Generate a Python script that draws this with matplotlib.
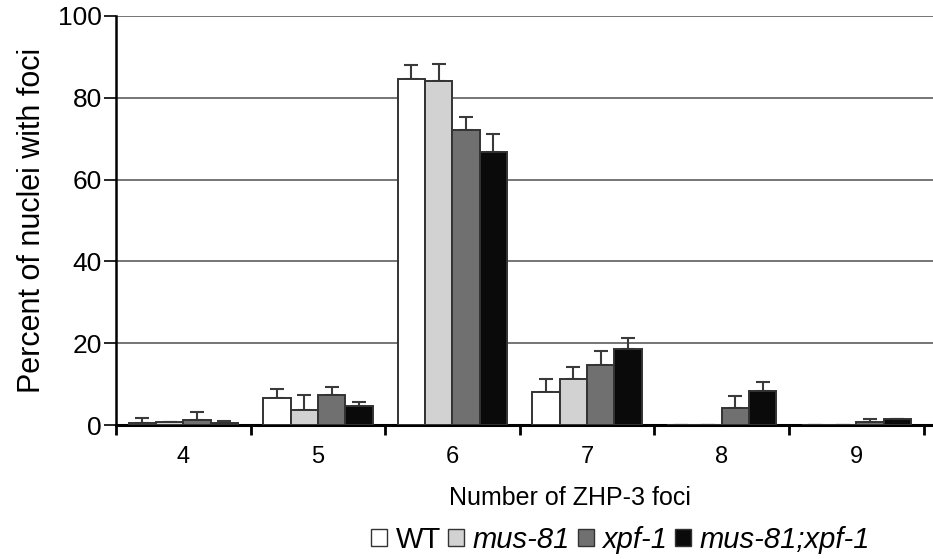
import numpy as np
import matplotlib.pyplot as plt
from matplotlib.patches import Patch

plt.rcParams['font.family'] = ['Liberation Sans', 'DejaVu Sans']

foci = ['4', '5', '6', '7', '8', '9']
labels = ['WT', 'mus-81', 'xpf-1', 'mus-81;xpf-1']
colors = ['#ffffff', '#d2d2d2', '#707070', '#0a0a0a']

wt = [0.5, 6.7, 84.6, 8.0, 0.0, 0.0]
wt_err = [1.1, 2.0, 3.4, 3.2, 0.0, 0.0]
mus81 = [0.7, 3.7, 84.1, 11.3, 0.0, 0.0]
mus81_err = [0.0, 3.6, 4.2, 2.9, 0.0, 0.0]
xpf1 = [1.2, 7.4, 72.1, 14.7, 4.2, 0.7]
xpf1_err = [2.0, 1.9, 3.2, 3.3, 2.8, 0.7]
double = [0.4, 4.6, 66.7, 18.5, 8.4, 1.5]
double_err = [0.6, 1.0, 4.4, 2.7, 2.2, 0.0]

series = [wt, mus81, xpf1, double]
errors = [wt_err, mus81_err, xpf1_err, double_err]

fig = plt.figure(figsize=(9.33, 5.59), dpi=100)
ax = fig.add_axes([0.1243, 0.2397, 0.8757, 0.7317])

x = np.arange(len(foci))
w = 0.203
for i, (vals, errs) in enumerate(zip(series, errors)):
    pos = x + (i - 1.5) * w
    ax.bar(pos, vals, w, color=colors[i], edgecolor='#333333', linewidth=1.4,
           zorder=3)
    ax.errorbar(pos, vals, yerr=[np.zeros(len(errs)), errs], fmt='none',
                ecolor='#3a3a3a', elinewidth=1.5, capsize=5, capthick=1.5,
                zorder=2)

ax.set_ylim(0, 100)
ax.set_xlim(-0.5, 5.57)
ax.set_yticks([0, 20, 40, 60, 80, 100])
ax.yaxis.grid(True, color='#505050', linewidth=1.1, zorder=0)
ax.set_axisbelow(True)
ax.set_xticks(x)
ax.set_xticklabels(foci, fontsize=17)
ax.set_xticks(np.arange(-0.5, 6, 1), minor=True)
ax.tick_params(axis='x', which='major', length=0, pad=15)
ax.tick_params(axis='x', which='minor', length=7, width=2, direction='out')
ax.tick_params(axis='y', length=9, width=1.2, labelsize=19, pad=1)

for s in ['top', 'right']:
    ax.spines[s].set_visible(False)
ax.spines['left'].set_linewidth(1.8)
ax.spines['bottom'].set_linewidth(2.2)

ax.set_ylabel('Percent of nuclei with foci', fontsize=22, labelpad=8)
ax.set_xlabel('Number of ZHP-3 foci', fontsize=18)
ax.xaxis.set_label_coords(0.556, -0.148)

handles = [Patch(facecolor=c, edgecolor='#333333', linewidth=1.0) for c in colors]
leg = fig.legend(handles, labels, loc='center', bbox_to_anchor=(0.665, 0.034),
                 ncol=4, frameon=False, fontsize=21, handlelength=0.55,
                 handleheight=0.55, handletextpad=0.3, columnspacing=0.25)
for t in leg.get_texts()[1:]:
    t.set_style('italic')

fig.savefig('out.png', dpi=100)
